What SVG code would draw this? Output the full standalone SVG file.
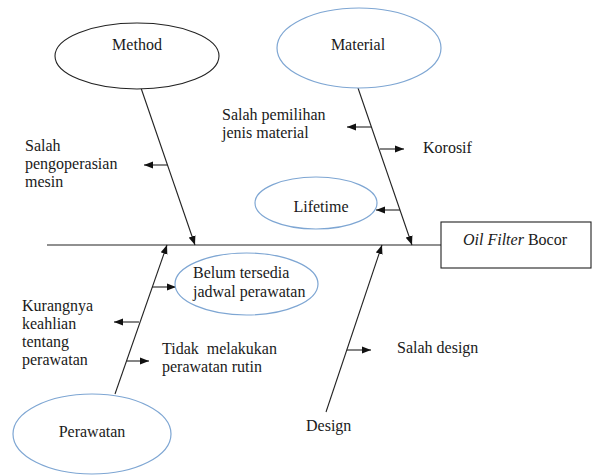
<svg xmlns="http://www.w3.org/2000/svg" width="592" height="475" viewBox="0 0 592 475">
<style>
text{font-family:"Liberation Serif","Times New Roman",serif;font-size:16px;fill:#1a1a1a}
.c{text-anchor:middle}
.blue{fill:#fff;stroke:#7ea6d3;stroke-width:1.2}
.blk{fill:#fff;stroke:#222;stroke-width:1.1}
.ln{stroke:#222;stroke-width:1.1;fill:none}
.ar{stroke:#222;stroke-width:1.1;fill:none;marker-end:url(#ah)}
</style>
<defs>
<marker id="ah" markerUnits="userSpaceOnUse" markerWidth="10" markerHeight="8" refX="9" refY="4" orient="auto">
<path d="M0,0.5 L9,4 L0,7.5 Z" fill="#111"/>
</marker>
</defs>
<rect width="592" height="475" fill="#fff"/>
<g id="connectors">
<line class="ln" x1="47" y1="245" x2="441" y2="245"/>
<line class="ar" x1="141" y1="88" x2="195" y2="245"/>
<line class="ar" x1="358" y1="88" x2="412" y2="245"/>
<line class="ar" x1="115" y1="394" x2="167" y2="245"/>
<line class="ar" x1="326" y1="412" x2="382" y2="245"/>
<line class="ar" x1="167" y1="165" x2="144" y2="165"/>
<line class="ar" x1="371" y1="127" x2="347" y2="127"/>
<line class="ar" x1="380" y1="149" x2="404" y2="149"/>
<line class="ar" x1="400" y1="210" x2="376" y2="210"/>
<line class="ar" x1="152" y1="287" x2="176" y2="287"/>
<line class="ar" x1="139" y1="322" x2="114" y2="322"/>
<line class="ar" x1="127" y1="361" x2="149" y2="361"/>
<line class="ar" x1="347" y1="350" x2="371" y2="350"/>
</g>
<g id="method">
<ellipse class="blk" cx="137" cy="56" rx="82" ry="33"/>
<text class="c" x="137" y="50">Method</text>
</g>
<g id="material">
<ellipse class="blue" cx="359" cy="48" rx="82" ry="40"/>
<text class="c" x="358" y="50">Material</text>
</g>
<g id="lifetime">
<ellipse class="blue" cx="316" cy="203" rx="61" ry="26"/>
<text class="c" x="321" y="212">Lifetime</text>
</g>
<g id="belum">
<ellipse class="blue" cx="246.5" cy="284" rx="71.5" ry="31"/>
<text x="193" y="278">Belum tersedia</text>
<text x="193" y="297">jadwal perawatan</text>
</g>
<g id="perawatan">
<ellipse class="blue" cx="92" cy="434" rx="79" ry="40"/>
<text class="c" x="92" y="437">Perawatan</text>
</g>
<g id="effect">
<rect class="blk" x="441" y="222" width="150" height="46"/>
<text x="463" y="245"><tspan font-style="italic">Oil Filter</tspan> Bocor</text>
</g>
<g id="design">
<text x="306" y="431">Design</text>
</g>
<g id="labels">
<text x="25" y="151">Salah</text>
<text x="25" y="169">pengoperasian</text>
<text x="25" y="187">mesin</text>
<text x="222" y="120">Salah pemilihan</text>
<text x="222" y="138">jenis material</text>
<text x="423" y="153">Korosif</text>
<text x="22" y="311">Kurangnya</text>
<text x="22" y="329">keahlian</text>
<text x="22" y="347">tentang</text>
<text x="22" y="365">perawatan</text>
<text x="162" y="354" xml:space="preserve">Tidak  melakukan</text>
<text x="162" y="372">perawatan rutin</text>
<text x="397" y="353">Salah design</text>
</g>
</svg>
